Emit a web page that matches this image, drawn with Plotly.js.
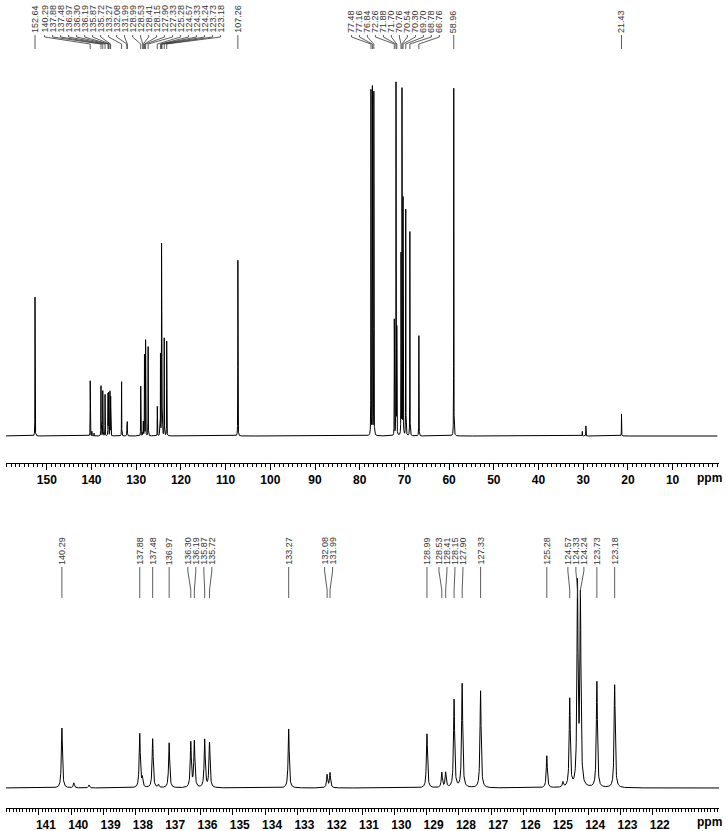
<!DOCTYPE html>
<html><head><meta charset="utf-8">
<script src="https://cdn.plot.ly/plotly-3.0.1.min.js"></script>
<style>html,body{margin:0;padding:0;background:#fff}#chart{width:726px;height:831px}</style>
</head><body><div id="chart"></div>
<script>
// ---- data ----
const peakPpm = [152.64,140.29,139.92,139.45,137.88,137.80,137.48,137.30,136.97,136.30,136.19,135.87,135.72,133.27,132.08,131.99,128.99,128.53,128.41,128.15,127.90,127.33,125.28,124.78,124.57,124.33,124.24,123.73,123.18,107.26,77.48,77.16,76.84,72.26,71.88,71.70,70.76,70.54,70.30,69.70,68.78,66.76,58.96,30.20,29.40,21.43];
const peakIntensity = [151,60,5,3,54,9,49,3,45,45,46,48,45,59,13,15,54,15,15,88,104,97,32,5,88,200,188,106,103,191,375,378,373,126,383,115,196,375,257,246,222,109,378,5,11,24];
const topLabelText = ["152.64","140.29","137.88","137.48","136.97","136.30","136.19","135.87","135.72","133.27","132.08","131.99","128.99","128.53","128.41","128.15","127.90","127.33","125.28","124.57","124.33","124.24","123.73","123.18","107.26","77.48","77.16","76.84","72.26","71.88","71.70","70.76","70.54","70.30","69.70","68.78","66.76","58.96","21.43"];
const bottomLabelText = ["140.29","137.88","137.48","136.97","136.30","136.19","135.87","135.72","133.27","132.08","131.99","128.99","128.53","128.41","128.15","127.90","127.33","125.28","124.57","124.33","124.24","123.73","123.18"];
const topTickVals = [150,140,130,120,110,100,90,80,70,60,50,40,30,20,10];
const bottomTickVals = [141,140,139,138,137,136,135,134,133,132,131,130,129,128,127,126,125,124,123,122];

// ---- layout constants ----
const W = 726, H = 831, ML = 6, MR = 7;
const PW = W - ML - MR;
const topRange = [159.13, -0.38];
const botRange = [142.02, 119.95];
const HWHM = 0.02;

// spectrum as a sum of lineshapes at the read peak positions
const xs = [], ys = [];
for (let i = 0; i <= 32000; i++) {
  const x = Math.round((160 - i * 0.005) * 1000) / 1000;
  let y = 0;
  for (let k = 0; k < peakPpm.length; k++) {
    const d = (x - peakPpm[k]) / HWHM;
    y += peakIntensity[k] / (1 + d * d);
  }
  xs.push(x); ys.push(y);
}
const bx = [], by = [];
for (let i = 0; i < xs.length; i++) if (xs[i] <= 142.2 && xs[i] >= 119.8) { bx.push(xs[i]); by.push(ys[i]); }

const py = p => 1 - p / H;

function spread(vals, sep) {
  let cl = vals.map(v => ({ m: [v], c: v }));
  let changed = true;
  while (changed) {
    changed = false;
    for (let i = 0; i < cl.length - 1; i++) {
      const a = cl[i], b = cl[i + 1];
      const aLow = a.c - (a.m.length - 1) / 2 * sep;
      const bHigh = b.c + (b.m.length - 1) / 2 * sep;
      if (aLow - bHigh < sep - 1e-9) {
        const m = a.m.concat(b.m);
        cl.splice(i, 2, { m: m, c: m.reduce((s, v) => s + v, 0) / m.length });
        changed = true; break;
      }
    }
  }
  const out = [];
  cl.forEach(c => c.m.forEach((v, j) => out.push(c.c + ((c.m.length - 1) / 2 - j) * sep)));
  return out;
}

const annotations = [], shapes = [];
function addLabels(texts, range, xref, yText, yA, yB, yC) {
  const vals = texts.map(t => parseFloat(t));
  const sep = 8 * (range[0] - range[1]) / PW;
  const pos = spread(vals, sep);
  texts.forEach((t, i) => {
    annotations.push({ x: pos[i], y: py(yText), xref: xref, yref: 'paper', text: t, showarrow: false,
      textangle: -90, xanchor: 'center', yanchor: 'bottom', borderpad: 0,
      font: { family: 'Liberation Sans, Arial', size: 9, color: '#333' } });
    shapes.push({ type: 'path', xref: xref, yref: 'paper',
      path: `M ${pos[i]},${py(yText + 1)} L ${pos[i]},${py(yA)} L ${vals[i]},${py(yB)} L ${vals[i]},${py(yC)}`,
      line: { color: '#333', width: 0.8 } });
  });
}
addLabels(topLabelText, topRange, 'x', 34, 37, 44, 49);
addLabels(bottomLabelText, botRange, 'x2', 566, 571, 590, 598);

annotations.push({ xref: 'paper', yref: 'paper', x: (709 - ML) / PW, y: py(478), text: 'ppm', showarrow: false,
  xanchor: 'center', yanchor: 'middle', font: { family: 'Liberation Sans, Arial', size: 12, weight: 'bold', color: '#000' } });
annotations.push({ xref: 'paper', yref: 'paper', x: (709 - ML) / PW, y: py(822), text: 'ppm', showarrow: false,
  xanchor: 'center', yanchor: 'middle', font: { family: 'Liberation Sans, Arial', size: 12, weight: 'bold', color: '#000' } });

const topScale = 0.92;
const axisCommon = {
  showline: true, linecolor: '#000', linewidth: 1, ticks: 'outside', ticklen: 6, tickcolor: '#000', tickwidth: 1,
  showgrid: false, zeroline: false, tickmode: 'array', automargin: false,
  tickfont: { family: 'Liberation Sans, Arial', size: 12, weight: 'bold', color: '#000' }
};
const layout = {
  width: W, height: H, margin: { l: ML, r: MR, t: 0, b: 0 },
  paper_bgcolor: '#fff', plot_bgcolor: '#fff', showlegend: false,
  xaxis: Object.assign({}, axisCommon, { domain: [0, 1], range: topRange, anchor: 'y', tickvals: topTickVals,
    minor: { tickmode: 'linear', tick0: 0, dtick: 1, ticks: 'outside', ticklen: 3, tickcolor: '#000' } }),
  yaxis: { domain: [py(463), 1], range: [-27 / topScale, 436 / topScale], visible: false, fixedrange: true },
  xaxis2: Object.assign({}, axisCommon, { domain: [0, 1], range: botRange, anchor: 'y2', tickvals: bottomTickVals,
    ticklabelshift: -7,
    minor: { tickmode: 'linear', tick0: 0, dtick: 0.1, ticks: 'outside', ticklen: 3, tickcolor: '#000' } }),
  yaxis2: { domain: [py(808), py(560)], range: [-20, 228], visible: false, fixedrange: true },
  annotations: annotations, shapes: shapes
};
const traces = [
  { type: 'scatter', mode: 'lines', x: xs, y: ys, xaxis: 'x', yaxis: 'y', line: { color: '#000', width: 1 }, hoverinfo: 'skip' },
  { type: 'scatter', mode: 'lines', x: bx, y: by, xaxis: 'x2', yaxis: 'y2', line: { color: '#000', width: 1 }, hoverinfo: 'skip' }
];
Plotly.newPlot('chart', traces, layout, { staticPlot: true, displayModeBar: false });
</script></body></html>
